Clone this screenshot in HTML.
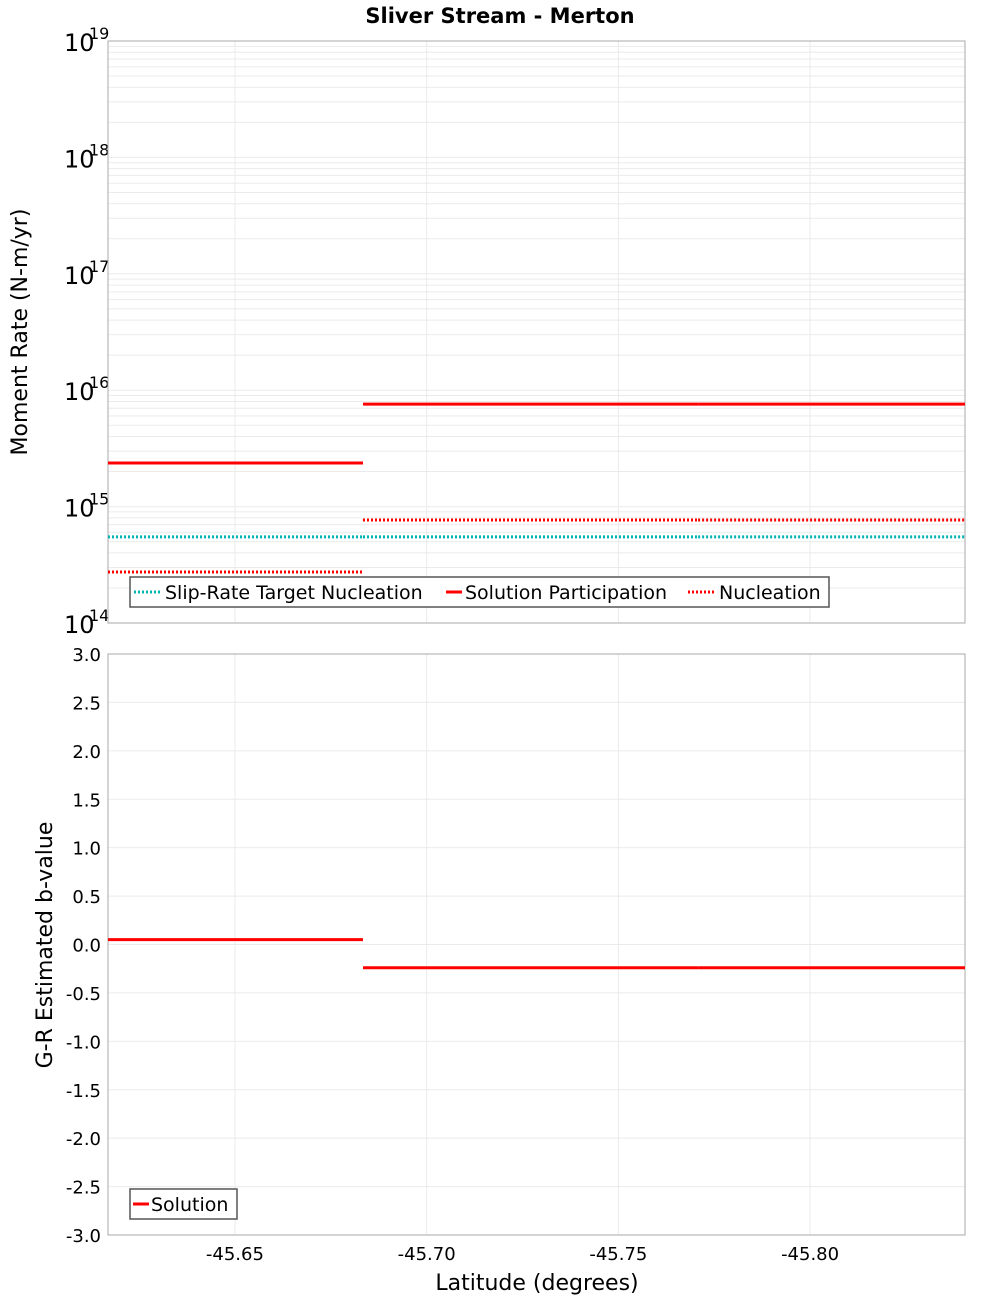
<!DOCTYPE html>
<html><head><meta charset="utf-8">
<style>
body{margin:0;background:#fff;font-family:"DejaVu Sans","Liberation Sans",sans-serif;}
svg text{font-family:"DejaVu Sans","Liberation Sans",sans-serif;}
</style></head>
<body>
<svg id="chart" width="1000" height="1300" xmlns="http://www.w3.org/2000/svg">
<rect width="1000" height="1300" fill="#fff"/>
<text x="500" y="23" text-anchor="middle" font-size="21" font-weight="bold">Sliver Stream - Merton</text>
<g id="topPanel"></g><g id="botPanel"></g>
</svg>
<script>
const xTicks=[-45.65,-45.70,-45.75,-45.80];
const segStarts=[-45.6169,-45.6834,-45.7708];
const segEnds=[-45.6834,-45.7708,-45.8404];
const targetNucleation=[5.49e14,5.49e14,5.49e14];
const solutionParticipation=[2.37e15,7.6e15,7.6e15];
const nucleation=[2.74e14,7.67e14,7.67e14];
const bValues=[0.05,-0.24,-0.24];
const bTicks=[3.0,2.5,2.0,1.5,1.0,0.5,0.0,-0.5,-1.0,-1.5,-2.0,-2.5,-3.0];
const logDecades=[14,15,16,17,18,19];

const NS="http://www.w3.org/2000/svg";
const L=108,R=965,xMin=-45.6169,xMax=-45.8404;
const X=v=>L+(v-xMin)/(xMax-xMin)*(R-L);
const T1=41,B1=623,Y1=v=>B1-(Math.log10(v)-14)/5*(B1-T1);
const T2=654,B2=1235,Y2=v=>B2-(v+3)/6*(B2-T2);
function el(p,t,a,txt){const e=document.createElementNS(NS,t);for(const k in a)e.setAttribute(k,a[k]);if(txt!==undefined)e.textContent=txt;p.appendChild(e);return e;}
const topG=document.getElementById('topPanel'),botG=document.getElementById('botPanel');

for(let d=14;d<19;d++)for(let m=1;m<10;m++){const y=Y1(m*Math.pow(10,d));
 const g=el(topG,'line',{x1:L,x2:R,y1:y,y2:y,stroke:'#ebebeb','stroke-width':1});
 
 }
xTicks.forEach(v=>{const x=X(v);
 const g=el(topG,'line',{x1:x,x2:x,y1:T1,y2:B1,stroke:'#ebebeb'});
 
 
 const g2=el(botG,'line',{x1:x,x2:x,y1:T2,y2:B2,stroke:'#ebebeb'});
 
 
 const t=el(botG,'text',{x:x,y:1260,'text-anchor':'middle','font-size':18},v.toFixed(2));
 
 });
logDecades.forEach(d=>{const y=Y1(Math.pow(10,d));
 const t=el(topG,'text',{x:64,y:y+10,'font-size':24},'10');
 
 
 const s=el(topG,'text',{x:89,y:y-2,'font-size':16},String(d));
 
 });
const f1=el(topG,'rect',{x:L,y:T1,width:R-L,height:B1-T1,fill:'none',stroke:'#aaa'});



function series(p,vals,Y,color,dash,name){vals.forEach((v,i)=>{const a={x1:X(segStarts[i]),x2:X(segEnds[i]),y1:Y(v),y2:Y(v),stroke:color,'stroke-width':3};if(dash)a['stroke-dasharray']=dash;
 const l=el(p,'line',a);
 
 });}
series(topG,nucleation,Y1,'#ff0000','2 2','nucleation-segment');
series(topG,targetNucleation,Y1,'#00b4b4','2 2','target-nucleation-segment');
series(topG,solutionParticipation,Y1,'#ff0000',null,'solution-participation-segment');

const lg=el(topG,'g',{});


el(lg,'rect',{x:130,y:577,width:699,height:30,fill:'#fff',stroke:'#555','stroke-width':1.5});
const items=[[134,'#00b4b4','2 2','Slip-Rate Target Nucleation',165,162],[446,'#ff0000',null,'Solution Participation',465,462],[688,'#ff0000','2 2','Nucleation',719,716]];
items.forEach(it=>{const a={x1:it[0],x2:it[5],y1:592,y2:592,stroke:it[1],'stroke-width':3};if(it[2])a['stroke-dasharray']=it[2];
 el(lg,'line',a);
 const t=el(lg,'text',{x:it[4],y:599,'font-size':19},it[3]);
 
 });
const yt1=el(topG,'text',{x:27,y:332,'text-anchor':'middle','font-size':22,transform:'rotate(-90 27 332)'},'Moment Rate (N-m/yr)');



bTicks.forEach(v=>{const y=Y2(v);
 const g=el(botG,'line',{x1:L,x2:R,y1:y,y2:y,stroke:'#ebebeb'});
 
 
 const t=el(botG,'text',{x:101,y:y+7,'text-anchor':'end','font-size':18},v.toFixed(1));
 
 });
const f2=el(botG,'rect',{x:L,y:T2,width:R-L,height:B2-T2,fill:'none',stroke:'#aaa'});


series(botG,bValues,Y2,'#ff0000',null,'b-value-segment');
const lg2=el(botG,'g',{});


el(lg2,'rect',{x:130,y:1189,width:107,height:30,fill:'#fff',stroke:'#555','stroke-width':1.5});
el(lg2,'line',{x1:133,x2:149,y1:1204,y2:1204,stroke:'#ff0000','stroke-width':3});
const st=el(lg2,'text',{x:151,y:1211,'font-size':19},'Solution');


const yt2=el(botG,'text',{x:52,y:945,'text-anchor':'middle','font-size':22,transform:'rotate(-90 52 945)'},'G-R Estimated b-value');


const xt=el(botG,'text',{x:537,y:1290,'text-anchor':'middle','font-size':22},'Latitude (degrees)');


</script>
</body></html>
